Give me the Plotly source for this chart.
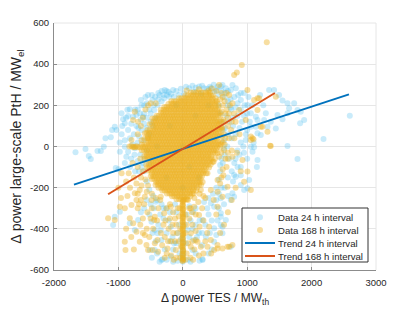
import plotly.graph_objects as go

# ---------------- data ----------------
# 24 h interval: points (x = delta power TES [MW_th], y = delta power PtH [MW_el])
d24 = [(-1666,-28),(-1511,-12),(-1460,-46),(-1429,-61),(-1325,-22),(-1273,-22),(-1227,-1),(-1201,40),
       (-1118,45),(-1098,80),(-1056,96),(-1030,80),(-952,161),(-927,132),(-901,113),(-849,148),(-772,145),
       (-719,153),(-668,161),(-617,145),(-823,181),(-978,-25),(-901,-1),(-849,-25),(-745,-9),(-877,-50),
       (-1041,-105),(-1000,-110),(-860,178),(-650,226),(-600,200),(-560,210),
       (-290,234),(-212,242),(-135,242),(-57,250),(20,258),(98,283),(176,266),(253,291),(331,283),(280,258),
       (435,283),(486,266),(590,291),(668,283),(745,275),(823,283),(771,299),(616,299),(-393,202),(-445,177),
       (-471,226),(901,226),(1004,202),(1056,161),(1134,145),(1056,96),(1160,64),(978,32),(1056,-1),(1160,-66),
       (1340,275),(1418,275),(1495,250),(1548,223),(1626,210),(1729,210),(1651,186),(1781,177),(1832,169),
       (1470,153),(1548,132),(1626,161),(1366,120),(1289,161),(1315,96),(1444,88),(1884,129),(1822,113),
       (2593,150),(2185,36),(1626,2),(1781,-61),(1107,-4),(1082,-25),(1211,56),(1134,96),(1263,129),(1160,129),
       (1030,-163),(1004,-203),(797,-138),(901,-187),(771,-227),(590,-252),(486,-293),(590,-341),(486,-397),
       (616,-390),(306,-552),(745,-487),
       (-1056,-341),(-1082,-381),(-978,-317),(-823,-373),(-745,-406),(-694,-357),(-486,-365),(-435,-406),
       (-331,-454),(-512,-503),(-435,-503),(-331,-552),
       (-316,-548),(-186,-535),(306,-548),(150,-503),(486,-463),(616,-422),(590,-381),(668,-357),(797,-244),
       (952,-211),(823,-147),(-419,-268),(-393,-422),(-342,-406),(-186,-390),(-135,-470),(-82,-422),(73,-406),
       (176,-454),(357,-438),(306,-357),(435,-276),(590,-324),(745,-260),
       (0,-560),(5,-550),(-5,-540),(0,-530),(8,-520),(0,-505),(-6,-490),(0,-470),(4,-450),(0,-430),
       (650,240),(700,200),(680,150),(720,120),(660,90),(700,60),(640,30),(690,0),(650,-40),(620,-80),
       (580,-120),(560,-160),(520,-200),(470,-230),(400,-250),(330,-270),(750,180),(780,100),(760,40),
       (720,-60),(-520,180),(-560,140),(-600,110),(-640,80),(-680,50),(-700,20),(-660,-40),(-620,-80),
       (-600,-120),(-560,-170),(-520,-210),(-460,-240),(-400,-260),(-330,-280),(-260,-300),(-200,-320),
       (-120,-280),(100,-290),(200,-300),(-480,250),(-380,260),(-250,270),(-150,275),(200,285),(380,280),
       (520,275),(560,250),
       (-950,60),(-900,30),(-850,80),(-800,110),(-760,60),(-720,100),(-700,180),(-650,130),(-600,160),
       (-560,90),(-520,60),(-500,120),(-450,200),(-420,140),(-380,230),(-330,220),(-300,250),(-250,250),
       (-180,255),(-800,-60),(-750,-40),(-700,-70),(-680,-120),(-640,-100),(-600,-60),(-560,-20),(-520,-80),
       (-900,-80),(-820,-100),(-740,-120),
       (600,270),(650,260),(700,270),(740,230),(800,240),(850,210),(900,180),(950,150),(850,150),(820,60),
       (880,90),(900,20),(950,-30),(850,-20),(800,-80),(760,-120),(700,-150),(650,-200),(600,-200),(560,-230),
       (520,-260),(850,-100),(900,-140),(1000,80),(1080,200),(1200,250),(1250,200),(950,260),(1020,240),
       (-300,-350),(-250,-420),(-200,-460),(-150,-500),(-100,-470),(-50,-520),(50,-470),(100,-440),(150,-400),
       (200,-380),(250,-420),(300,-480),(350,-380),(400,-330),(450,-360),(-350,-330),(-450,-300),(-500,-280),
       (-600,-300),(-650,-320),(-250,-550),(-150,-560),(80,-550),(200,-520),(400,-520),(-400,-520),
       (-980,20),(-940,100),(-880,140),(-820,40),(-780,10),(-740,180),(-690,90),(-640,200),(-610,30),
       (-580,240),(-540,250),(-500,160),(-470,100),(-430,240),(-360,250),(-330,270),(-280,275),(-220,265),
       (-100,270),(-30,280),(50,290),(150,295),(300,295),(420,290),(480,300),(540,290),
       (560,200),(590,160),(610,120),(630,80),(640,-10),(600,-60),(580,-90),(700,220),(740,190),(780,140),
       (820,190),(860,250),(900,260),(920,120),(960,200),(1000,160),(1040,120),(980,60),(940,0),(880,-40),
       (820,-60),(780,-170),(700,-240),(640,-280),(560,-300),(900,-100),(1000,-60),(1100,20),(1150,-100),
       (-560,-260),(-520,-330),(-470,-420),(-420,-460),(-380,-380),(-300,-300),(-280,-500),(-220,-360),
       (-160,-440),(-100,-320),(-60,-380),(-30,-450),(30,-380),(60,-330),(120,-360),(160,-320),(220,-440),
       (260,-360),(300,-420),(380,-300),(420,-420),(450,-500),(520,-430),(540,-360),(-480,-540),(-360,-560),
       (-80,-555),(120,-560),(260,-555),
       (-200,100),(0,0),(200,150),(100,-100),(-300,-50),(300,50),(-100,200),(400,200),(-400,0),(0,-200),
       (250,-150),(-250,-150)]

# 168 h interval: points outside the dense core
d168 = [(1304,506),(916,396),(797,347),(839,359),(1004,275),(1185,234),(1444,242),(1160,234),(1107,226),
        (1056,48),(1098,35),(1356,4),(1211,96),(1160,177),(1237,96),(1315,72),(1082,40),(1366,2),
        (952,-171),(1056,-211),(694,-195),(1004,-122),(539,-163),(280,-211),(771,-479),(694,-487),(539,-479),
        (435,-454),(202,-454),(280,-487),(124,-487),
        (-901,-463),(-890,-503),(-668,-463),(-564,-479),(-435,-470),(-539,-503),(-383,-511),
        (-1160,-349),(-1056,-357),(-978,-293),(-797,-284),(-719,-260),(-745,-227),(-668,-211),(-590,-244),
        (-486,-260),(-823,-349),(-771,-373),(-719,-414),(-590,-430),(-435,-341),
        (-470,-503),(-393,-454),(-238,-495),(-109,-503),(-31,-487),(-290,-324),(-445,-357),(-186,-293),
        (-342,-244),(124,-422),(228,-463),(383,-487),(486,-503),(539,-495),(616,-495),(719,-487),(409,-390),
        (539,-293),(616,-244),(435,-211),(176,-293),(253,-333),
        (-745,169),(-694,120),(-590,64),(-539,40),(-797,32),(-772,129),
        (-950,-130),(-880,-170),(-820,-200),(-760,-150),(-700,-230),(-640,-190),
        (564,299),(719,250),(771,210),(874,177),(978,129),(1056,32),(927,-66),(771,-50),(564,-50),(642,-17),
        (60,272),(250,278),(400,272),(450,282),
        (-830,0),(-800,2),(-760,-1),(-720,1),
        (620,200),(660,160),(700,100),(640,60),(680,-100),(600,-150),(-700,-100),(-650,-150),(-560,-220),
        (-480,-300),(-380,-300),(-300,-380),(-200,-350),(-150,-420),(-100,-380),(100,-350),(150,-380),
        (200,-330),(300,-300),(350,-250),(-80,-300),(80,-260),(-60,-460),(60,-520),(-100,-540),(120,-540),
        (150,-460),
        (620,240),(650,220),(680,180),(720,160),(640,120),(700,140),(660,40),(620,20),(700,-30),(660,-60),
        (620,-110),(580,-180),(540,-220),(480,-260),(750,80),(800,160),(760,-20),(820,120),(600,260),(520,270),
        (-700,60),(-650,100),(-620,140),(-580,180),(-540,200),(-500,210),(-420,210),(-640,30),(-660,-60),
        (-620,-120),(-580,-160),(-540,-190),(-480,-230),(-420,-250),(-350,-260),(-650,-260),(-600,-280),
        (-550,-320),(-500,-350),(-700,-300),
        (-250,-300),(-200,-280),(-150,-320),(-120,-350),(-60,-340),(-40,-400),(40,-420),(60,-380),(100,-300),
        (140,-320),(180,-250),(240,-270),(260,-230),(320,-240),(-280,-440),(-220,-400),(-180,-460),(-250,-520),
        (-180,-530),(180,-500),(250,-530),(320,-520),(350,-460),(-40,-540),(40,-550),
        (580,230),(600,170),(630,130),(610,90),(650,10),(600,-30),(630,-140),(700,-60),(720,40),(760,120),
        (730,200),(680,260),(800,40),(840,-30),(880,60),(900,-120),(820,-200),(760,-260),(700,-320),
        (640,-380),(580,-420),(520,-330),
        (-620,-350),(-560,-400),(-520,-440),(-460,-400),(-400,-360),(-340,-420),(-320,-480),(-270,-360),
        (-230,-460),(-160,-380),(-120,-460),(-90,-420),(-50,-300),(40,-330),(80,-470),(120,-300),(200,-410),
        (260,-390),(320,-360),(380,-420),(440,-520),(-280,-540),(-140,-550),(160,-550),
        (-1000,-200),(-960,-250),(-900,-300),(-860,-240),(-840,-130),(-780,-80),(-720,-180),(-680,-280),
        (-880,-400),(-800,-440),(-760,-500),(-660,-380),(-620,-420),
        (2,-260),(-3,-270),(0,-280),(4,-290),(-2,-300),(1,-310),(-4,-320),(3,-330),(0,-340),(-2,-350),
        (2,-360),(0,-370),(-3,-380),(4,-390),(0,-400),(-1,-410),(3,-420),(-2,-430),(0,-440),(2,-450),
        (-3,-460),(1,-470),(0,-480),(-2,-490),(3,-500),(0,-510),(-1,-520),(2,-530),(0,-540),(-2,-548),(1,-555),
        (6,-265),(-6,-285),(6,-305),(-6,-325),(6,-345),(-6,-365),(6,-385),(-6,-405),(6,-425),(-6,-445),
        (6,-465),(-6,-485),(6,-505),(-6,-525),(6,-545),(-6,-555)]

# 168 h interval: dense core, read row by row (y value, x values)
core168_y = [262,248,234,220,206,192,178,164,150,136,122,108,94,80,66,52,38,24,10,-4,
             -18,-32,-46,-60,-74,-88,-102,-116,-130,-144,-158,-172,-186,-200,-214,-228,-242,-256]
core168_x = [
    [122,163,207,241,288,318,362,398,421],
    [42,77,124,158,203,236,283,318,357,404,437,468],
    [-58,-22,23,57,104,138,183,221,258,303,337,382,418,463,507],
    [-178,-137,-104,-58,-22,24,57,103,142,178,223,257,302,338,383,417,458,503,528],
    [-223,-177,-143,-98,-62,-17,22,63,97,143,177,222,263,298,343,377,423,458,502,543],
    [-287,-253,-208,-172,-127,-93,-48,-12,33,67,112,148,193,227,272,308,352,388,433,467,512,553],
    [-343,-297,-262,-218,-183,-137,-102,-58,-22,23,57,103,138,182,218,263,297,343,378,422,458,503,538],
    [-337,-302,-258,-223,-177,-142,-98,-63,-17,22,63,98,143,178,222,258,302,337,383,418,462,498,543,573],
    [-407,-373,-328,-292,-248,-212,-167,-133,-88,-52,-8,28,73,107,152,188,233,267,312,348,393,427,472,508,553,583],
    [-473,-437,-393,-357,-312,-277,-233,-197,-152,-118,-73,-37,8,42,87,123,168,202,247,283,328,362,407,443,488,522],
    [-452,-418,-373,-337,-292,-258,-213,-177,-132,-98,-53,-17,28,62,107,143,188,222,267,303,348,382,427,463,508,542,572,593],
    [-513,-477,-432,-398,-353,-317,-272,-238,-193,-157,-112,-78,-33,3,48,82,127,163,208,242,287,323,368,402,447,483,528,562],
    [-458,-413,-377,-332,-298,-253,-217,-172,-138,-93,-57,-12,22,67,103,148,182,227,263,308,342,387,423,468,502,547,577,603],
    [-548,-513,-467,-433,-388,-352,-307,-273,-228,-192,-147,-113,-68,-32,13,47,92,128,173,207,252,288,333,367,412,448,493,527,572,608],
    [-563,-522,-488,-443,-407,-362,-328,-283,-247,-202,-168,-123,-87,-42,-8,37,73,118,152,197,233,278,312,357,393,438,472,517,553],
    [-543,-497,-463,-418,-383,-337,-302,-258,-223,-177,-142,-98,-63,-17,18,63,97,142,178,222,258,303,337,383,417,462,498,543,577,608],
    [-593,-552,-518,-473,-437,-392,-358,-313,-277,-232,-198,-153,-117,-72,-38,7,43,88,122,167,203,248,282,327,363,408,442,487,523],
    [-532,-498,-453,-417,-372,-338,-293,-257,-212,-178,-133,-97,-52,-18,27,63,108,142,187,223,268,302,347,383,428,462,507,543,598],
    [-638,-597,-563,-518,-482,-437,-403,-358,-322,-277,-243,-198,-162,-117,-83,-38,-2,43,77,122,158,203,237,282,318,363,397,442,478,523,557,588],
    [-778,-743,-702,-668,-623,-587,-542,-508,-463,-427,-382,-348,-303,-267,-222,-188,-143,-107,-62,-28,17,53,98,132,177,213,258,292,337,373,418,452,497,533,578],
    [-638,-602,-557,-523,-478,-442,-397,-363,-318,-282,-237,-203,-158,-122,-77,-43,2,38,83,117,162,198,243,277,322,358,403,437,482,518],
    [-567,-533,-488,-452,-407,-373,-328,-292,-247,-213,-168,-132,-87,-53,-8,28,73,107,152,188,233,267,312,348,393,427,472,508,538],
    [-598,-563,-517,-483,-438,-402,-357,-323,-278,-242,-197,-163,-118,-82,-37,-3,42,78,123,157,202,238,283,317,362,398,443],
    [-588,-547,-513,-468,-432,-387,-353,-308,-272,-227,-193,-148,-112,-67,-33,12,48,93,127,172,208,253,287,332,368,413,447,498],
    [-497,-463,-418,-382,-337,-303,-258,-222,-177,-143,-98,-62,-17,17,62,98,143,177,222,258,303,337,382,418,463,478],
    [-568,-527,-493,-448,-412,-367,-333,-288,-252,-207,-173,-128,-92,-47,-13,32,68,113,147,192,228,273,307,352,388,433],
    [-553,-517,-472,-438,-393,-357,-312,-278,-233,-197,-152,-118,-73,-37,8,42,87,123,168,202,247,283,328,362,407],
    [-538,-497,-463,-418,-382,-337,-303,-258,-222,-177,-143,-98,-62,-17,17,62,98,143,177,222,258,303,337],
    [-482,-437,-403,-358,-322,-277,-243,-198,-162,-117,-83,-38,-2,43,77,122,158,203,237,282,318,363,383],
    [-498,-457,-423,-378,-342,-297,-263,-218,-182,-137,-103,-58,-22,23,57,102,138,183,217,262,298],
    [-478,-442,-397,-363,-318,-282,-237,-203,-158,-122,-77,-43,2,38,83,117,162,198,243,277],
    [-412,-378,-333,-297,-252,-218,-173,-137,-92,-58,-13,23,68,102,147,183,228,262,308],
    [-423,-387,-342,-308,-263,-227,-182,-148,-103,-67,-22,12,57,93,138,172,217,253,283],
    [-378,-337,-303,-258,-222,-177,-143,-98,-62,-17,17,62,98,143,177,222],
    [-318,-282,-237,-203,-158,-122,-77,-43,2,38,83,117,162,208],
    [-248,-207,-173,-128,-92,-47,-13,32,68,113,147,168],
    [-168,-132,-87,-53,-8,28,73,118],
    [-98,-57,-23,22,48,68],
]

# trend lines (end points)
trend24_x = [-1690, 2580]
trend24_y = [-185, 253]
trend168_x = [-1160, 1430]
trend168_y = [-232, 260]

x_ticks = [-2000, -1000, 0, 1000, 2000, 3000]
y_ticks = [-600, -400, -200, 0, 200, 400, 600]

series_names = ["Data 24 h interval", "Data 168 h interval", "Trend 24 h interval", "Trend 168 h interval"]
C_D24, C_D168, C_T24, C_T168 = "#4DBEEE", "#EDB120", "#0072BD", "#D95319"

# ---------------- assemble ----------------
x24 = [p[0] for p in d24]
y24 = [p[1] for p in d24]
x168 = [p[0] for p in d168]
y168 = [p[1] for p in d168]
for yv, xs in zip(core168_y, core168_x):
    x168.extend(xs)
    y168.extend([yv] * len(xs))

FONT = "Liberation Sans, Arial, Helvetica, sans-serif"
TXT = "#262626"
A24, A168 = 0.3, 0.42

fig = go.Figure()
fig.add_trace(go.Scatter(x=x24, y=y24, mode="markers", name=series_names[0], showlegend=False,
                         marker=dict(size=6, color=C_D24, opacity=A24, line=dict(width=0))))
fig.add_trace(go.Scatter(x=x168, y=y168, mode="markers", name=series_names[1], showlegend=False,
                         marker=dict(size=6, color=C_D168, opacity=A168, line=dict(width=0))))
fig.add_trace(go.Scatter(x=trend24_x, y=trend24_y, mode="lines", name=series_names[2], showlegend=False,
                         line=dict(color=C_T24, width=2)))
fig.add_trace(go.Scatter(x=trend168_x, y=trend168_y, mode="lines", name=series_names[3], showlegend=False,
                         line=dict(color=C_T168, width=2)))

axis_common = dict(showgrid=True, gridcolor="#E6E6E6", gridwidth=1, zeroline=False, automargin=False,
                   showline=True, linecolor="#8C8C8C", linewidth=1, ticks="inside",
                   ticklen=3, tickcolor="#8C8C8C", tickfont=dict(family=FONT, size=9.5, color=TXT))

fig.update_xaxes(range=[-2000, 3000], tickvals=x_ticks, ticktext=[str(v) for v in x_ticks],
                 ticklabelstandoff=4,
                 title=dict(text="Δ power TES / MW<sub>th</sub>", font=dict(family=FONT, size=12, color=TXT),
                            standoff=6),
                 **axis_common)
fig.update_yaxes(range=[-600, 600], tickvals=y_ticks, ticktext=[str(v) for v in y_ticks],
                 ticklabelstandoff=2,
                 title=dict(text="Δ power large-scale PtH / MW<sub>el</sub>", font=dict(family=FONT, size=14, color=TXT),
                            standoff=5),
                 **axis_common)

# ---- legend box (MATLAB style) in plot-area (paper) coordinates ----
PW, PH = 322.0, 247.0          # plot area size in px
def px(dx): return dx / PW
def py(dy): return dy / PH

lg_x0, lg_x1 = px(188), px(314)
lg_y0, lg_y1 = py(8), py(62)
row_y = [py(52.7), py(40.0), py(27.0), py(14.0)]
sym_x0, sym_x1, sym_xc = px(191), px(221), px(206)
txt_x = px(222)

shapes = [
    dict(type="line", xref="paper", yref="paper", x0=0, x1=1, y0=1, y1=1, line=dict(color="#E6E6E6", width=1)),
    dict(type="line", xref="paper", yref="paper", x0=1, x1=1, y0=0, y1=1, line=dict(color="#E6E6E6", width=1)),
    dict(type="rect", xref="paper", yref="paper", x0=lg_x0, x1=lg_x1, y0=lg_y0, y1=lg_y1,
         fillcolor="white", line=dict(color="#333333", width=1), layer="above"),
]
for i, col in enumerate([C_D24, C_D168]):
    shapes.append(dict(type="circle", xref="paper", yref="paper",
                       x0=sym_xc - px(3), x1=sym_xc + px(3), y0=row_y[i] - py(3), y1=row_y[i] + py(3),
                       fillcolor=col, opacity=[A24, A168][i], line=dict(width=0), layer="above"))
for i, col in [(2, C_T24), (3, C_T168)]:
    shapes.append(dict(type="line", xref="paper", yref="paper", x0=sym_x0, x1=sym_x1, y0=row_y[i], y1=row_y[i],
                       line=dict(color=col, width=2), layer="above"))

annotations = [dict(xref="paper", yref="paper", x=txt_x, y=row_y[i], text=series_names[i], showarrow=False,
                    xanchor="left", yanchor="middle", font=dict(family=FONT, size=9.6, color=TXT))
               for i in range(4)]

fig.update_layout(
    width=407, height=306,
    margin=dict(l=46, r=39, t=15, b=44),
    paper_bgcolor="white", plot_bgcolor="white",
    shapes=shapes, annotations=annotations,
)

fig.write_html("out.html")
